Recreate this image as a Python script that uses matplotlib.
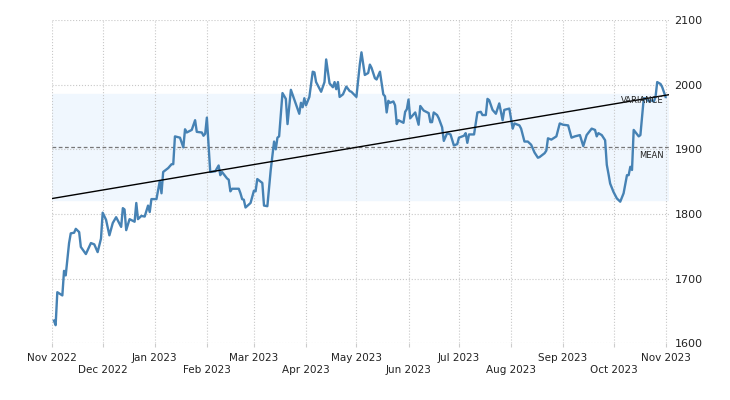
import numpy as np
import pandas as pd
import matplotlib
matplotlib.use("Agg")
import matplotlib.pyplot as plt
import matplotlib.dates as mdates

# days after 2022-11-01 and price
start = "2022-11-01"
days = [1, 2, 3, 6, 7, 8, 10, 11, 13, 14, 16, 17, 20, 23, 25, 27, 29, 30, 32, 34,
        36, 38, 41, 42, 43, 44, 46, 49, 50, 51, 53, 55, 57, 58, 59, 62, 64, 65, 66, 69,
        71, 72, 73, 76, 78, 79, 80, 83, 85, 86, 89, 90, 91, 92, 94, 97, 99, 100, 101, 104,
        105, 106, 107, 111, 112, 113, 114, 115, 118, 120, 121, 122, 125, 126, 128, 130, 132, 133, 134, 135,
        137, 139, 140, 142, 144, 147, 148, 149, 150, 151, 153, 155, 156, 157, 160, 162, 163, 165, 167, 168,
        169, 170, 171, 173, 175, 177, 178, 181, 183, 184, 186, 188, 189, 190, 192, 193, 195, 197, 198, 199,
        200, 201, 203, 204, 205, 206, 209, 210, 211, 212, 213, 216, 218, 219, 221, 224, 225, 226, 227, 229,
        230, 232, 233, 235, 237, 239, 241, 242, 245, 246, 247, 248, 251, 253, 255, 256, 258, 259, 260, 262,
        264, 266, 268, 269, 272, 274, 275, 278, 279, 281, 283, 285, 287, 289, 290, 293, 294, 295, 297, 300,
        302, 304, 307, 309, 311, 314, 316, 318, 321, 323, 324, 325, 327, 329, 330, 331, 332, 334, 336, 338,
        340, 342, 343, 344, 345, 346, 349, 350, 352, 353, 355, 356, 358, 359, 360, 362, 363, 365]
price = [1635, 1628, 1679, 1674, 1712, 1705, 1755, 1770, 1771, 1777, 1772, 1749, 1738, 1755, 1753, 1741, 1762, 1802, 1791, 1767,
         1786, 1795, 1780, 1809, 1807, 1775, 1792, 1788, 1817, 1792, 1797, 1796, 1813, 1803, 1823, 1823, 1851, 1832, 1865, 1871,
         1877, 1877, 1920, 1918, 1903, 1931, 1926, 1930, 1945, 1927, 1926, 1921, 1924, 1949, 1865, 1866, 1875, 1860, 1865, 1855,
         1853, 1835, 1839, 1839, 1832, 1823, 1822, 1810, 1817, 1836, 1835, 1854, 1848, 1813, 1812, 1868, 1912, 1900, 1918, 1920,
         1987, 1978, 1939, 1992, 1977, 1955, 1972, 1965, 1979, 1968, 1981, 2020, 2019, 2004, 1989, 2004, 2039, 2002, 1996, 2004,
         1993, 2004, 1981, 1985, 1997, 1990, 1989, 1981, 2031, 2050, 2015, 2018, 2031, 2026, 2010, 2008, 2020, 1985, 1982, 1957,
         1975, 1972, 1974, 1968, 1939, 1945, 1941, 1958, 1962, 1977, 1948, 1957, 1938, 1967, 1960, 1956, 1942, 1942, 1957, 1953,
         1948, 1934, 1913, 1925, 1923, 1906, 1908, 1918, 1921, 1925, 1910, 1923, 1923, 1957, 1958, 1953, 1953, 1978, 1976, 1961,
         1955, 1971, 1945, 1961, 1963, 1932, 1940, 1937, 1932, 1912, 1912, 1907, 1895, 1887, 1888, 1894, 1898, 1917, 1915, 1920,
         1940, 1938, 1937, 1918, 1920, 1922, 1905, 1922, 1932, 1930, 1920, 1925, 1922, 1914, 1876, 1862, 1847, 1834, 1824, 1819,
         1832, 1860, 1860, 1873, 1868, 1930, 1920, 1922, 1979, 1979, 1974, 1976, 1974, 1981, 2004, 2001, 1996, 1981]

months = pd.date_range("2022-11-01", "2023-11-01", freq="MS")
yticks = [1600, 1700, 1800, 1900, 2000, 2100]

dates = pd.Timestamp(start) + pd.to_timedelta(days, unit="D")
x = mdates.date2num(dates)
y = np.array(price, dtype=float)

mean = y.mean()
std = y.std()
slope, icpt = np.polyfit(x, y, 1)

fig = plt.figure(figsize=(7.3, 4.0), dpi=100)
ax = fig.add_axes([0.0716, 0.1418, 0.9164 - 0.0716, 0.95 - 0.1418])

x0 = mdates.date2num(pd.Timestamp(start))
x1 = x0 + 367
ax.set_xlim(x0, x1)
ax.set_ylim(1600, 2100)

ax.axhspan(mean - std, mean + std, color="#f0f7fe", zorder=0)
ax.axhline(mean, color="#777777", lw=0.9, ls=(0, (3, 2)), zorder=1)
ax.plot([x0, x1], [slope * x0 + icpt, slope * x1 + icpt], color="black", lw=1, zorder=3)
ax.plot(x, y, color="#4682b4", lw=1.7, zorder=2, solid_joinstyle="round")

ax.text(x1 - 3, mean + std - 4, "VARIANCE", ha="right", va="top", fontsize=6, color="#222222", zorder=4)
ax.text(x1 - 3, mean - 6, "MEAN", ha="right", va="top", fontsize=6, color="#222222", zorder=4)

ax.set_xticks(mdates.date2num(months))
labels = []
for i, m in enumerate(months):
    s = m.strftime("%b %Y")
    labels.append(s if i % 2 == 0 else "\n" + s)
ax.set_xticklabels(labels, fontsize=7.5, color="#222222")
ax.set_yticks(yticks)
ax.set_yticklabels([str(v) for v in yticks], fontsize=8, color="#222222")
ax.yaxis.tick_right()
ax.tick_params(axis="x", length=3, color="#cccccc", pad=4)
ax.tick_params(axis="y", length=0, pad=4)

ax.grid(True, color="#c8c8c8", ls=":", lw=0.8)
for s in ax.spines.values():
    s.set_visible(False)

fig.savefig("out.png", dpi=100)
